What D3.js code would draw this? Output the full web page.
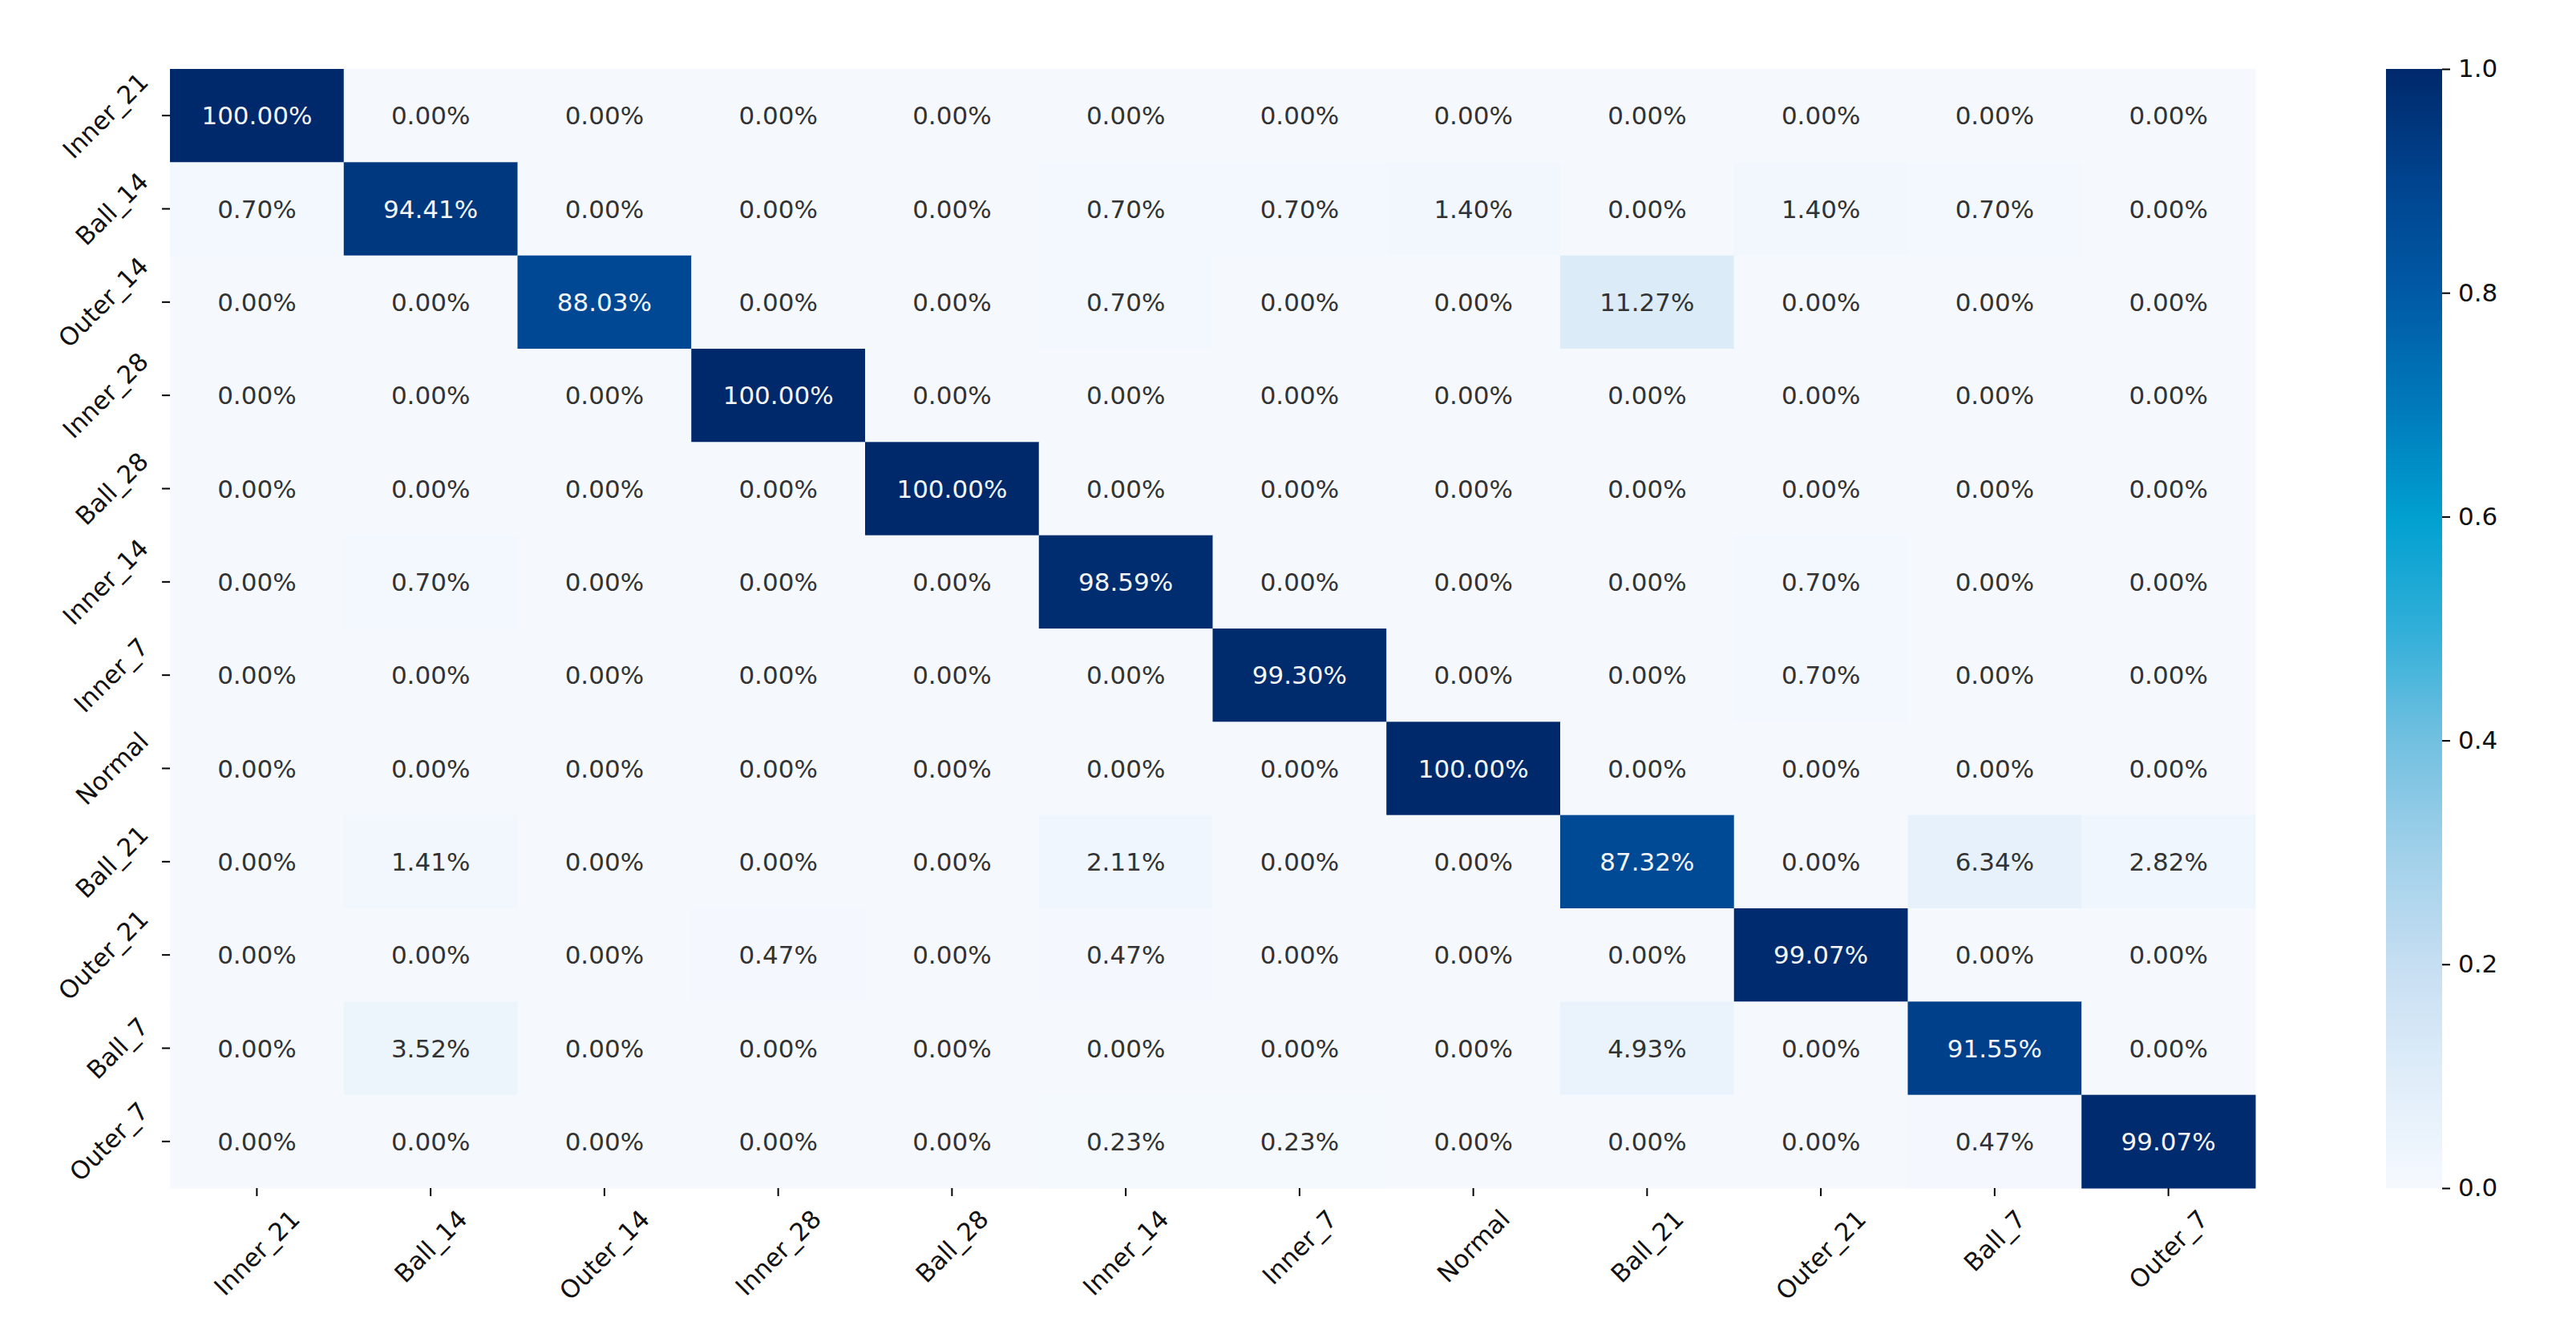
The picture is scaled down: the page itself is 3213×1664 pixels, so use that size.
<!DOCTYPE html>
<html>
<head>
<meta charset="utf-8">
<script src="https://d3js.org/d3.v7.min.js"></script>
<style>
  body { margin: 0; background: #fff; }
  text { font-family: "DejaVu Sans", sans-serif; }
</style>
</head>
<body>
<div id="cm"></div>
<script>
// class names, same order on both axes
var labels = ['Inner_21', 'Ball_14', 'Outer_14', 'Inner_28', 'Ball_28', 'Inner_14',
              'Inner_7', 'Normal', 'Ball_21', 'Outer_21', 'Ball_7', 'Outer_7']

// confusion matrix rows (true class), in percent
var rowInner21 = [100, 0, 0, 0, 0, 0, 0, 0, 0, 0, 0, 0]
var rowBall14  = [0.70, 94.41, 0, 0, 0, 0.70, 0.70, 1.40, 0, 1.40, 0.70, 0]
var rowOuter14 = [0, 0, 88.03, 0, 0, 0.70, 0, 0, 11.27, 0, 0, 0]
var rowInner28 = [0, 0, 0, 100, 0, 0, 0, 0, 0, 0, 0, 0]
var rowBall28  = [0, 0, 0, 0, 100, 0, 0, 0, 0, 0, 0, 0]
var rowInner14 = [0, 0.70, 0, 0, 0, 98.59, 0, 0, 0, 0.70, 0, 0]
var rowInner7  = [0, 0, 0, 0, 0, 0, 99.30, 0, 0, 0.70, 0, 0]
var rowNormal  = [0, 0, 0, 0, 0, 0, 0, 100, 0, 0, 0, 0]
var rowBall21  = [0, 1.41, 0, 0, 0, 2.11, 0, 0, 87.32, 0, 6.34, 2.82]
var rowOuter21 = [0, 0, 0, 0.47, 0, 0.47, 0, 0, 0, 99.07, 0, 0]
var rowBall7   = [0, 3.52, 0, 0, 0, 0, 0, 0, 4.93, 0, 91.55, 0]
var rowOuter7  = [0, 0, 0, 0, 0, 0.23, 0.23, 0, 0, 0, 0.47, 99.07]

var matrix = [rowInner21, rowBall14, rowOuter14, rowInner28, rowBall28, rowInner14,
              rowInner7, rowNormal, rowBall21, rowOuter21, rowBall7, rowOuter7]

// colour bar ticks
var cbarTicks = [0, 0.2, 0.4, 0.6, 0.8, 1.0]

// colour map stops
var cmapDomain = [0, 0.1, 0.2, 0.3, 0.4, 0.5, 0.6, 0.7, 0.8, 0.9, 1.0]
var cmapColors = ['#f5f9fe', '#dfedf9', '#c6def2', '#a0d0ea', '#72c0e0', '#30afd9',
                  '#00a0d0', '#0079bb', '#005aa6', '#00438e', '#00296b']

var W = 3213, H = 1664
var margin = {top: 86, left: 212}
var width = 2601, height = 1396
var fs = 31

var svg = d3.select('#cm')
  .append('svg')
  .attr('width', W)
  .attr('height', H)

var g = svg.append('g')
  .attr('transform', 'translate(' + margin.left + ',' + margin.top + ')')

var x = d3.scaleBand().domain(labels).range([0, width])
var y = d3.scaleBand().domain(labels).range([0, height])
var color = d3.scaleLinear().domain(cmapDomain).range(cmapColors)
  .interpolate(d3.interpolateRgb).clamp(true)

// flatten the matrix into cells
var cells = []
matrix.forEach(function (row, i) {
  row.forEach(function (v, j) {
    cells.push({ r: labels[i], c: labels[j], v: v })
  })
})

g.selectAll('rect.cell')
  .data(cells)
  .enter()
  .append('rect')
  .attr('class', 'cell')
  .attr('x', function (d) { return x(d.c) })
  .attr('y', function (d) { return y(d.r) })
  .attr('width', x.bandwidth() + 0.5)
  .attr('height', y.bandwidth() + 0.5)
  .attr('fill', function (d) { return color(d.v / 100) })

// annotations, light text on dark cells
function lum (c) {
  var rgb = d3.rgb(c)
  var f = function (u) { u = u / 255; return u <= 0.03928 ? u / 12.92 : Math.pow((u + 0.055) / 1.055, 2.4) }
  return 0.2126 * f(rgb.r) + 0.7152 * f(rgb.g) + 0.0722 * f(rgb.b)
}

g.selectAll('text.ann')
  .data(cells)
  .enter()
  .append('text')
  .attr('class', 'ann')
  .attr('x', function (d) { return x(d.c) + x.bandwidth() / 2 })
  .attr('y', function (d) { return y(d.r) + y.bandwidth() / 2 })
  .attr('text-anchor', 'middle')
  .attr('dominant-baseline', 'central')
  .attr('font-size', fs)
  .attr('fill', function (d) { return lum(color(d.v / 100)) > 0.408 ? '#333333' : '#f2f6fb' })
  .text(function (d) { return d.v.toFixed(2) + '%' })

// ticks
var tickLen = 10, pad = 10, c45 = Math.SQRT1_2, th = fs * 1.16

var yt = g.selectAll('g.yt').data(labels).enter().append('g').attr('class', 'yt')
yt.append('line')
  .attr('x1', -tickLen).attr('x2', 0)
  .attr('y1', function (d) { return y(d) + y.bandwidth() / 2 })
  .attr('y2', function (d) { return y(d) + y.bandwidth() / 2 })
  .attr('stroke', '#000').attr('stroke-width', 2)
yt.append('text')
  .attr('font-size', fs)
  .attr('fill', '#111')
  .attr('text-anchor', 'middle')
  .attr('dominant-baseline', 'central')
  .text(function (d) { return d })
  .each(function (d) {
    var L = this.getComputedTextLength()
    var bw = (L + th) * c45
    var cx = -tickLen - pad - bw / 2
    var cy = y(d) + y.bandwidth() / 2
    d3.select(this).attr('transform', 'translate(' + cx + ',' + cy + ') rotate(-45)')
  })

var xt = g.selectAll('g.xt').data(labels).enter().append('g').attr('class', 'xt')
xt.append('line')
  .attr('x1', function (d) { return x(d) + x.bandwidth() / 2 })
  .attr('x2', function (d) { return x(d) + x.bandwidth() / 2 })
  .attr('y1', height).attr('y2', height + tickLen)
  .attr('stroke', '#000').attr('stroke-width', 2)
xt.append('text')
  .attr('font-size', fs)
  .attr('fill', '#111')
  .attr('text-anchor', 'middle')
  .attr('dominant-baseline', 'central')
  .text(function (d) { return d })
  .each(function (d) {
    var L = this.getComputedTextLength()
    var bh = (L + th) * c45
    var cx = x(d) + x.bandwidth() / 2
    var cy = height + tickLen + pad + bh / 2
    d3.select(this).attr('transform', 'translate(' + cx + ',' + cy + ') rotate(-45)')
  })

// colour bar
var cb = {x: 2976, w: 70}
var defs = svg.append('defs')
var grad = defs.append('linearGradient')
  .attr('id', 'cbgrad')
  .attr('x1', '0').attr('y1', '1').attr('x2', '0').attr('y2', '0')
grad.selectAll('stop')
  .data(d3.range(0, 1.0001, 0.02))
  .enter()
  .append('stop')
  .attr('offset', function (d) { return d })
  .attr('stop-color', function (d) { return color(d) })

svg.append('rect')
  .attr('x', cb.x).attr('y', margin.top)
  .attr('width', cb.w).attr('height', height)
  .attr('fill', 'url(#cbgrad)')

var cy = d3.scaleLinear().domain([0, 1]).range([margin.top + height, margin.top])
var cax = svg.append('g')
  .attr('transform', 'translate(' + (cb.x + cb.w) + ',0)')
  .call(d3.axisRight(cy).tickValues(cbarTicks).tickFormat(d3.format('.1f'))
    .tickSize(tickLen).tickPadding(pad))
cax.select('.domain').remove()
cax.selectAll('.tick line').attr('stroke', '#000').attr('stroke-width', 2)
cax.selectAll('.tick text')
  .attr('font-size', fs)
  .attr('font-family', '"DejaVu Sans", sans-serif')
  .attr('fill', '#111')
</script>
</body>
</html>
